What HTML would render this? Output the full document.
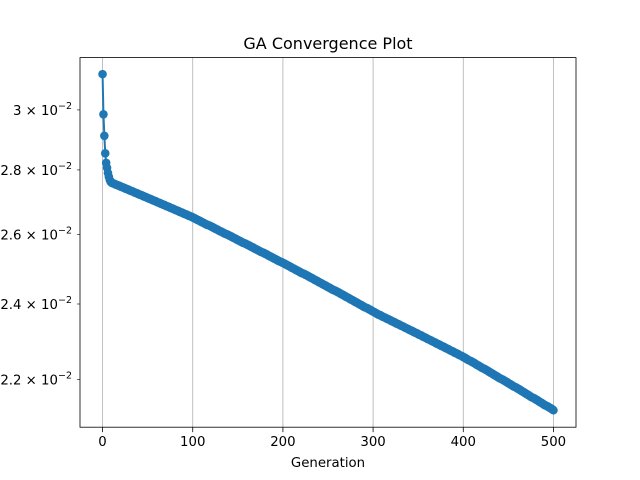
<!DOCTYPE html>
<html><head><meta charset="utf-8"><style>
html,body{margin:0;padding:0;background:#fff;}
svg{display:block;font-family:"DejaVu Sans","Liberation Sans",sans-serif;}
</style></head><body>
<svg id="chart" width="640" height="480" viewBox="0 0 640 480">
<rect x="0" y="0" width="640" height="480" fill="#fff"/>
<text x="328" y="49" text-anchor="middle" font-size="16" fill="#000">GA Convergence Plot</text>
<text x="328" y="467" text-anchor="middle" font-size="13.3" fill="#000">Generation</text>
<g id="grid"></g>
<g id="series"></g>
<g id="axes"></g>
</svg>
<script>
// best fitness per generation, in units of 1e-5
const bestFitnessE5 = [3126,2985,2912,2854,2823,2807,2790,2778,2768,2762,2759,2758,2757,2756,2754,2753,
2752,2751,2750,2749,2747,2746,2745,2744,2743,2741,2740,2739,2738,2737,2735,2734,2733,2732,2731,2729,
2728,2727,2726,2725,2723,2722,2721,2720,2719,2717,2716,2715,2714,2713,2711,2710,2709,2708,2707,2705,
2704,2703,2702,2701,2699,2698,2697,2696,2695,2693,2692,2691,2690,2689,2687,2686,2685,2684,2683,2681,
2680,2679,2678,2677,2675,2674,2673,2672,2671,2669,2668,2667,2666,2665,2663,2662,2661,2660,2659,2657,
2656,2655,2654,2653,2651,
2650,2649,2647,2646,2644,2643,2642,2640,2639,2637,2636,2635,2633,2632,2630,2629,2628,2627,2626,2624,
2623,2622,2620,2619,2617,2616,2615,2613,2612,2610,2609,2608,2606,2605,2603,2602,2601,2600,2599,2597,
2596,2595,2593,2592,2590,2589,2588,2586,2585,2583,2582,2581,2579,2578,2576,2575,2574,2573,2572,2570,
2569,2568,2566,2565,2563,2562,2561,2559,2558,2556,2555,2554,2552,2551,2549,2548,2547,2546,2545,2543,
2542,2541,2539,2538,2536,2535,2534,2532,2531,2529,2528,2527,2525,2524,2522,2521,2520,2519,2518,2516,
2515,2514,2512,2511,2509,2508,2507,2505,2504,2502,2501,2500,2498,2497,2495,2494,2493,2491,2490,2488,
2487,2486,2485,2484,2482,2481,2480,2478,2477,2475,2474,2473,2471,2470,2468,2467,2466,2464,2463,2461,
2460,2459,2457,2456,2454,2453,2452,2450,2449,2447,2446,2445,2443,2442,2440,2439,2438,2437,2436,2434,
2433,2432,2430,2429,2427,2426,2425,2423,2422,2420,2419,2418,2416,2415,2413,2412,2411,2409,2408,2406,
2405,2404,2402,2401,2399,2398,2397,2395,2394,2392,2391,2390,2389,2388,2386,2385,2384,2382,2381,2379,
2378,2377,2375,2374,2372,2371,2370,2369,2368,2366,2365,2364,2363,2362,2360,2359,2358,2357,2356,2354,
2353,2352,2351,2350,2348,2347,2346,2345,2344,2342,2341,2340,2339,2338,2336,2335,2334,2333,2332,2330,
2329,2328,2327,2326,2324,2323,2322,2321,2320,2318,2317,2316,2315,2314,2312,2311,2310,2309,2308,2306,
2305,2304,2303,2302,2300,2299,2298,2297,2296,2294,2293,2292,2291,2290,2288,2287,2286,2285,2284,2282,
2281,2280,2279,2278,2276,2275,2274,2273,2272,2270,2269,2268,2267,2266,2264,2263,2262,2261,2260,2258,
2257,2256,2254,2253,2251,2250,2249,2248,2247,2245,2244,2243,2241,2240,2238,2237,2236,2234,2233,2231,
2230,2229,2228,2227,2225,2224,2223,2221,2220,2218,2217,2216,2214,2213,2211,2210,2209,2207,2206,2204,
2203,2202,2201,2200,2198,2197,2196,2194,2193,2191,2190,2189,2187,2186,2184,2183,2182,2181,2180,2178,
2177,2176,2174,2173,2171,2170,2169,2167,2166,2164,2163,2162,2160,2159,2157,2156,2155,2154,2153,2151,
2150,2149,2147,2146,2144,2143,2142,2140,2139,2137,2136,2135,2134,2133,2131,2130,2129,2127,2126,2124];
const xTicks = [0,100,200,300,400,500];
const yTickValues = [0.022,0.024,0.026,0.028,0.030];
const yTickMantissas = ["2.2","2.4","2.6","2.8","3"];

const NS="http://www.w3.org/2000/svg";
const L=80,R=576,T=57.6,B=427.2;
const xMin=-25,xMax=525;
const yMin=0.02083,yMax=0.03186;
const sx=v=>L+(v-xMin)/(xMax-xMin)*(R-L);
const sy=v=>B-(Math.log10(v)-Math.log10(yMin))/(Math.log10(yMax)-Math.log10(yMin))*(B-T);
function mk(tag,attrs,parent){const e=document.createElementNS(NS,tag);for(const k in attrs)e.setAttribute(k,attrs[k]);parent.appendChild(e);return e;}
const grid=document.getElementById('grid'),series=document.getElementById('series'),axes=document.getElementById('axes');

xTicks.forEach(t=>{
  const g=mk('line',{x1:sx(t),x2:sx(t),y1:T,y2:B,stroke:'#b0b0b0','stroke-width':0.8},grid);
  
  
});

const vals=bestFitnessE5.map(v=>v*1e-5);
const pts=vals.map((v,i)=>sx(i).toFixed(2)+','+sy(v).toFixed(2)).join(' ');
const line=mk('polyline',{points:pts,fill:'none',stroke:'#1f77b4','stroke-width':2},series);


vals.forEach((v,i)=>{
  const c=mk('circle',{cx:sx(i),cy:sy(v),r:4.3,fill:'#1f77b4'},series);
  
  
});

const frame=mk('rect',{x:L,y:T,width:R-L,height:B-T,fill:'none',stroke:'#000','stroke-width':0.8},axes);



xTicks.forEach(t=>{
  const tk=mk('line',{x1:sx(t),x2:sx(t),y1:B,y2:B+4.9,stroke:'#000','stroke-width':0.8},axes);
  
  
  const tl=mk('text',{x:sx(t),y:B+19,'text-anchor':'middle','font-size':13.3,fill:'#000'},axes);
  tl.textContent=String(t);
  
  
});

yTickValues.forEach((v,i)=>{
  const y=sy(v);
  const tk=mk('line',{x1:L-3,x2:L,y1:y,y2:y,stroke:'#000','stroke-width':0.6},axes);
  
  
  const tl=mk('text',{x:L-8,y:y+5,'text-anchor':'end','font-size':13.3,fill:'#000'},axes);
  
  
  const a=document.createElementNS(NS,'tspan');a.textContent=yTickMantissas[i]+' × 10';tl.appendChild(a);
  const b=document.createElementNS(NS,'tspan');b.setAttribute('dy','-6');b.setAttribute('font-size','9.5');b.textContent='−2';tl.appendChild(b);
});
</script>
</body></html>
